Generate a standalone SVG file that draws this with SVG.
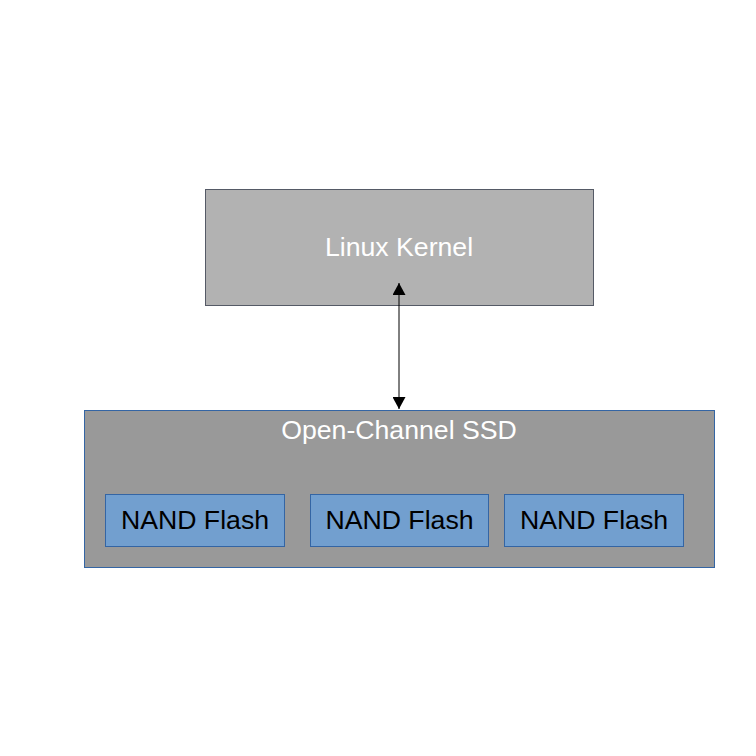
<svg xmlns="http://www.w3.org/2000/svg" width="756" height="756" viewBox="0 0 756 756">
<defs>
<style>
text{font-family:"Liberation Sans",Arial,sans-serif;font-size:26.67px;text-anchor:middle}
.light{fill:#ffffff}
.dark{fill:#000000}
.nand{fill:#729fcf;stroke:#3465a4;stroke-width:1}
</style>
<marker id="ah" viewBox="0 0 12 13" refX="12" refY="6.5" markerWidth="12" markerHeight="13" markerUnits="userSpaceOnUse" orient="auto-start-reverse">
<path d="M0,0 L12,6.5 L0,13 Z" fill="#000"/>
</marker>
</defs>
<rect width="756" height="756" fill="#ffffff"/>
<g id="kernel">
<rect x="205.5" y="189.5" width="388" height="116" fill="#b2b2b2" stroke="#555a66" stroke-width="1"/>
<text class="light" x="399" y="256">Linux Kernel</text>
</g>
<g id="ssd">
<rect x="84.5" y="410.5" width="630" height="157" fill="#999999" stroke="#3465a4" stroke-width="1"/>
<text class="light" x="399" y="439">Open-Channel SSD</text>
</g>
<g id="nand1">
<rect class="nand" x="105.5" y="494.5" width="179" height="52"/>
<text class="dark" x="195" y="529">NAND Flash</text>
</g>
<g id="nand2">
<rect class="nand" x="310.5" y="494.5" width="178" height="52"/>
<text class="dark" x="399.5" y="529">NAND Flash</text>
</g>
<g id="nand3">
<rect class="nand" x="504.5" y="494.5" width="179" height="52"/>
<text class="dark" x="594" y="529">NAND Flash</text>
</g>
<g id="connectors">
<line x1="399" y1="283" x2="399" y2="409" stroke="#000" stroke-width="1" marker-start="url(#ah)" marker-end="url(#ah)"/>
</g>
</svg>
